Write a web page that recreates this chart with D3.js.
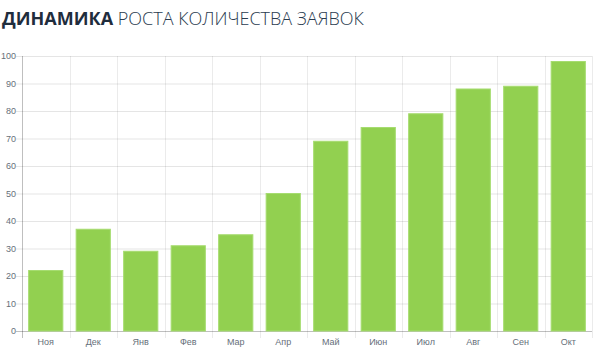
<!DOCTYPE html>
<html><head><meta charset="utf-8">
<script src="https://cdn.jsdelivr.net/npm/d3@7"></script>
<style>
html,body{margin:0;padding:0;background:#fff;}
svg{display:block;}
</style></head>
<body>
<svg id="c" width="604" height="356"></svg>
<script>
const categories = ["Ноя","Дек","Янв","Фев","Мар","Апр","Май","Июн","Июл","Авг","Сен","Окт"];
const values = [22,37,29,31,35,50,69,74,79,88,89,98];
const yTicks = [0,10,20,30,40,50,60,70,80,90,100];
const titleBold = "ДИНАМИКА";
const titleLight = "РОСТА КОЛИЧЕСТВА ЗАЯВОК";

const svg = d3.select("#c");
const m = {left:22, right:12, top:56, bottom:25};
const W = 604, H = 356;
const x = d3.scaleBand().domain(categories).range([m.left, W - m.right]).paddingInner(0).paddingOuter(0);
const y = d3.scaleLinear().domain([0,100]).range([H - m.bottom, m.top]);

// title
const t = svg.append("text").attr("x",2).attr("y",25)
  .style("font-family","'Open Sans', sans-serif").style("font-size","18px");
t.append("tspan").text(titleBold).attr("font-weight",700).attr("fill","#1f2d3d");
t.append("tspan").text(" " + titleLight).attr("font-weight",300).attr("fill","#2a3b4f");

// horizontal gridlines
svg.append("g").selectAll("line").data(yTicks).join("line")
  .attr("x1", m.left - 6).attr("x2", W - m.right)
  .attr("y1", d => y(d) + 0.5).attr("y2", d => y(d) + 0.5)
  .attr("stroke", d => d === 0 ? "rgba(0,0,0,0.25)" : "rgba(0,0,0,0.1)");

// vertical gridlines at category boundaries
const bounds = categories.map(c => x(c)).concat([x(categories[categories.length-1]) + x.bandwidth()]);
svg.append("g").selectAll("line").data(bounds).join("line")
  .attr("x1", d => Math.round(d) + 0.5).attr("x2", d => Math.round(d) + 0.5)
  .attr("y1", m.top).attr("y2", H - m.bottom + 7)
  .attr("stroke", (d,i) => i === 0 ? "rgba(0,0,0,0.25)" : "rgba(0,0,0,0.08)");

// y tick labels
svg.append("g").selectAll("text").data(yTicks).join("text")
  .attr("x", m.left - 6).attr("y", d => y(d)).attr("dy","0.35em")
  .attr("text-anchor","end")
  .style("font-family","'Liberation Sans', Arial, sans-serif").style("font-size","9px")
  .attr("fill","#666f7a").text(d => d);

// bars
const bw = x.bandwidth() * 0.72;
svg.append("g").selectAll("rect").data(values).join("rect")
  .attr("x", (d,i) => x(categories[i]) + (x.bandwidth() - bw)/2)
  .attr("width", bw)
  .attr("y", d => y(d))
  .attr("height", d => y(0) - y(d))
  .attr("fill", "#92d050")
  .attr("stroke", "#a6dc70").attr("stroke-width", 1);

// x labels
svg.append("g").selectAll("text").data(categories).join("text")
  .attr("x", d => x(d) + x.bandwidth()/2).attr("y", H - m.bottom + 14)
  .attr("text-anchor","middle")
  .style("font-family","'Liberation Sans', Arial, sans-serif").style("font-size","9px")
  .attr("fill","#666f7a").text(d => d);
</script>
</body></html>
